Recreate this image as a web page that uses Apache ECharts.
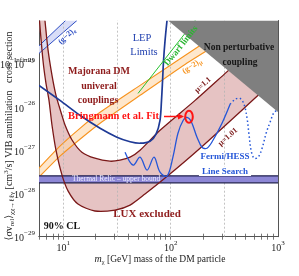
<!DOCTYPE html>
<html><head><meta charset="utf-8">
<script src="https://cdn.jsdelivr.net/npm/echarts@6/dist/echarts.min.js"></script>
<style>html,body{margin:0;padding:0;background:#fff}#c{width:299px;height:276px}</style>
</head><body><div id="c"></div>
<script>
// ---- axis ranges & ticks ----
const xMin = 5.94, xMax = 1000, yMin = 0.998e-29, yMax = 1e-24;
const xGridVals = [10, 31.6, 100, 316];
const yGridVals = [1e-28, 1e-27, 1e-26, 1e-25];
const xTickVals = [6,7,8,9,10,20,30,40,50,60,70,80,90,100,200,300,400,500,600,700,800,900];
const yTickVals = [];
[-29,-28,-27,-26,-25].forEach(e => { for (let k = 1; k <= 9; k++) yTickVals.push(k * Math.pow(10, e)); });

// ---- non perturbative region ----
const npM = [94.6, 1000, 1000];
const npS = [1e-24, 1e-24, 7.6e-27];

// ---- LUX / Majorana band (mu = 1.1 upper edge, mu = 1.01 lower edge) ----
const mu11M = [6.75, 7.2, 7.85, 8.55, 9.52, 10.4, 12.1, 14.9, 19.7, 27.2, 33.7, 41.9, 51.9, 79.6, 169, 332, 450];
const mu11S = [1e-24, 2.14e-25, 5.37e-26, 1.86e-26, 7.53e-27, 3.78e-27, 1.70e-27, 9.0e-28, 6.53e-28, 5.57e-28, 5.88e-28, 6.9e-28, 1.0e-27, 2.89e-27, 1.42e-26, 6.4e-26, 1.26e-25];
const mu101M = [6.0, 6.47, 6.9, 7.36, 7.85, 8.55, 9.73, 11.1, 13.7, 19.7, 30.3, 41.9, 57.7, 88.7, 188, 653, 1000];
const mu101S = [1e-24, 1.19e-25, 3.51e-26, 1.42e-26, 3.78e-27, 1.0e-27, 2.65e-28, 1.13e-28, 5.68e-29, 3.92e-29, 4.13e-29, 5.38e-29, 9.66e-29, 2.26e-28, 1.11e-27, 1.86e-26, 4.9e-26];

// ---- (g-2)_mu band ----
const gmUpM = [5.94, 9.31, 14.3, 22.0, 51.9, 136, 259];
const gmUpS = [3.85e-28, 1.24e-27, 3.21e-27, 7.53e-27, 3.16e-26, 1.55e-25, 4.5e-25];
const gmLoM = [5.94, 9.31, 14.3, 22.0, 51.9, 136, 288];
const gmLoS = [2.38e-28, 7.27e-28, 1.79e-27, 4.2e-27, 1.86e-26, 9.64e-26, 3.1e-25];

// ---- (g-2)_e band ----
const geUpM = [5.94, 10.5];
const geUpS = [2.6e-25, 1e-24];
const geLoM = [5.94, 13.4];
const geLoS = [1.73e-25, 1e-24];

// ---- LEP limits ----
const lepM = [5.94, 9.31, 14.3, 22.0, 31.6, 41.9, 51.9, 64.3, 73.1, 79.6, 82.2, 84.1, 85.9, 88.7, 92.5];
const lepS = [3.16e-26, 1.42e-26, 6.42e-27, 3.21e-27, 2.0e-27, 1.57e-27, 1.45e-27, 1.61e-27, 2.34e-27, 4.92e-27, 1.42e-26, 4.12e-26, 1.19e-25, 3.44e-25, 1e-24];

// ---- Dwarf limits ----
const dwM = [49.7, 169];
const dwS = [2.06e-26, 1e-24];

// ---- Fermi / HESS line search ----
const fermiM = [37.6, 44.7, 51.9, 60.3, 70.0, 79.6, 92.5, 105, 117, 131, 142, 155, 176, 196, 218, 248, 301, 358];
const fermiS = [9.0e-28, 4.51e-28, 6.9e-28, 3.46e-28, 6.9e-28, 3.11e-28, 2.51e-28, 6.9e-28, 2.47e-27, 4.92e-27, 5.77e-27, 4.67e-27, 2.0e-27, 1.17e-27, 1.11e-27, 1.7e-27, 4.2e-27, 1.15e-26];
const hessM = [358, 398, 443, 483, 515, 538, 561, 598, 653, 711, 775, 844, 920, 1000];
const hessS = [1.15e-26, 1.5e-26, 1.58e-26, 1.15e-26, 5.47e-27, 2.22e-27, 1.0e-27, 6.53e-28, 6.9e-28, 1.11e-27, 2.47e-27, 4.43e-27, 7.53e-27, 8.4e-27];

// ---- thermal relic band ----
const relicM = [xMin, xMax];
const relicLo = [1.76e-28, 1.76e-28], relicHi = [2.55e-28, 2.55e-28];

// ---------------------------------------------------------------
const zip = (a, b) => a.map((v, i) => [v, b[i]]);
const SERIF = '"Liberation Serif","DejaVu Serif",serif';
const DARKRED = '#8e1b1b';

function shapeSeries(z, build) {
  return {
    type: 'custom', coordinateSystem: 'cartesian2d', z: z, silent: true, clip: true,
    data: [[10, 1e-27]],
    renderItem: (p, api) => build(api)
  };
}
function pts(api, m, s) { return zip(m, s).map(d => api.coord(d)); }

const series = [];
series.push(shapeSeries(2, api => ({
  type: 'polygon', shape: { points: pts(api, mu11M, mu11S).concat(pts(api, mu101M, mu101S).reverse()), smooth: 0.25 },
  style: { fill: '#e6c3c3' }
})));
series.push(shapeSeries(3, api => ({
  type: 'group', children: [
    { type: 'polygon', shape: { points: pts(api, gmUpM, gmUpS).concat(pts(api, gmLoM, gmLoS).reverse()), smooth: 0.2 },
      style: { fill: 'rgba(253,215,170,0.6)' } },
    { type: 'polyline', shape: { points: pts(api, gmUpM, gmUpS), smooth: 0.2 }, style: { stroke: '#f7931e', lineWidth: 1.1, fill: null } },
    { type: 'polyline', shape: { points: pts(api, gmLoM, gmLoS), smooth: 0.2 }, style: { stroke: '#f7931e', lineWidth: 1.1, fill: null } }
  ]
})));
series.push(shapeSeries(3, api => ({
  type: 'group', children: [
    { type: 'polygon', shape: { points: pts(api, geUpM, geUpS).concat(pts(api, geLoM, geLoS).reverse()) }, style: { fill: '#d9ddf7' } },
    { type: 'polyline', shape: { points: pts(api, geUpM, geUpS) }, style: { stroke: '#2f4fc4', lineWidth: 1, fill: null } },
    { type: 'polyline', shape: { points: pts(api, geLoM, geLoS) }, style: { stroke: '#2f4fc4', lineWidth: 1, fill: null } }
  ]
})));
series.push({
  type: 'line', data: [], z: 4, silent: true,
  markLine: {
    silent: true, symbol: 'none', label: { show: false }, animation: false,
    lineStyle: { type: [2, 2], color: '#b4b4b4', width: 0.8 },
    data: xGridVals.map(v => ({ xAxis: v })).concat(yGridVals.map(v => ({ yAxis: v })))
  }
});
series.push(shapeSeries(5, api => ({
  type: 'group', children: [
    { type: 'polygon', shape: { points: pts(api, relicM, relicHi).concat(pts(api, relicM, relicLo).reverse()) }, style: { fill: '#8d87d6' } },
    { type: 'polyline', shape: { points: pts(api, relicM, relicHi) }, style: { stroke: '#20204e', lineWidth: 1.3, fill: null } },
    { type: 'polyline', shape: { points: pts(api, relicM, relicLo) }, style: { stroke: '#20204e', lineWidth: 1.3, fill: null } }
  ]
})));
series.push(shapeSeries(6, api => ({
  type: 'group', children: [
    { type: 'polyline', shape: { points: pts(api, mu11M, mu11S), smooth: 0.25 }, style: { stroke: '#7a1818', lineWidth: 1.3, fill: null } },
    { type: 'polyline', shape: { points: pts(api, mu101M, mu101S), smooth: 0.25 }, style: { stroke: '#7a1818', lineWidth: 1.3, fill: null } }
  ]
})));
series.push(shapeSeries(6, api => ({
  type: 'polyline', shape: { points: pts(api, lepM, lepS), smooth: 0.3 }, style: { stroke: '#1e3a96', lineWidth: 1.7, fill: null }
})));
series.push({ type: 'line', z: 6, silent: true, data: zip(dwM, dwS), symbol: 'none', lineStyle: { color: '#27c22f', width: 1 } });
series.push(shapeSeries(6, api => ({
  type: 'group', children: [
    { type: 'polyline', shape: { points: pts(api, fermiM, fermiS), smooth: 0.35 }, style: { stroke: '#2456d8', lineWidth: 1.3, fill: null } },
    { type: 'polyline', shape: { points: pts(api, hessM, hessS), smooth: 0.35 }, style: { stroke: '#2456d8', lineWidth: 1.5, lineDash: [1.5, 2.5], fill: null } }
  ]
})));
series.push(shapeSeries(8, api => ({
  type: 'polygon', shape: { points: pts(api, npM, npS) }, style: { fill: '#7f7f7f' }
})));

const richTick = {
  b: { fontSize: 10, fontFamily: SERIF, color: '#222', lineHeight: 14, verticalAlign: 'bottom' },
  e: { fontSize: 7, fontFamily: SERIF, color: '#222', lineHeight: 8, verticalAlign: 'top' }
};
const expFmt = (v, hideTop) => {
  const l = Math.log10(v), e = Math.round(l);
  if (Math.abs(l - e) > 0.01) return '';
  if (hideTop && e >= -24) return '';
  return '{b|10}{e|' + (e < 0 ? '\u2212' + (-e) : e) + '}';
};
const axisLineStyle = { color: '#555', width: 1 };
const tickStyle = { color: '#555', width: 0.8 };

const xAxisBase = { type: 'log', logBase: 10, min: xMin, max: xMax, splitLine: { show: false }, axisLine: { lineStyle: axisLineStyle } };
const yAxisBase = { type: 'log', logBase: 10, min: yMin, max: yMax, splitLine: { show: false }, axisLine: { lineStyle: axisLineStyle } };

const option = {
  animation: false,
  backgroundColor: '#fff',
  grid: { left: 39, right: 21, top: 20.5, bottom: 39.3, containLabel: false, outerBoundsMode: 'none' },
  xAxis: [
    Object.assign({}, xAxisBase, {
      position: 'bottom',
      axisTick: { inside: true, length: 3, customValues: xTickVals, lineStyle: tickStyle },
      axisLabel: { formatter: v => expFmt(v, false), rich: richTick, margin: 3, showMinLabel: true, showMaxLabel: true }
    }),
    Object.assign({}, xAxisBase, {
      position: 'top',
      axisTick: { inside: true, length: 3, customValues: xTickVals, lineStyle: tickStyle },
      axisLabel: { show: false }
    })
  ],
  yAxis: [
    Object.assign({}, yAxisBase, {
      position: 'left',
      axisTick: { inside: true, length: 3, customValues: yTickVals, lineStyle: tickStyle },
      axisLabel: { formatter: v => expFmt(v, true), rich: richTick, margin: 4, showMinLabel: true, showMaxLabel: true }
    }),
    Object.assign({}, yAxisBase, {
      position: 'right',
      axisTick: { inside: true, length: 3, customValues: yTickVals, lineStyle: tickStyle },
      axisLabel: { show: false }
    })
  ],
  series: series,
  graphic: [
    { type: 'text', z: 100, x: 9, y: 136, rotation: Math.PI / 2, style: {
      text: '{n|\u27e8\u03c3v}{s|rel}{n|\u27e9}{s|\u03c7\u03c7\u2192\u2113\u2113\u03b3}{n| [cm}{p|3}{n|/s] VIB annihilation   cross section}',
      font: '10px ' + SERIF, fill: '#222', align: 'center', verticalAlign: 'middle',
      rich: {
        n: { fontSize: 10, fontFamily: SERIF, lineHeight: 13, verticalAlign: 'middle' },
        s: { fontSize: 7, fontFamily: SERIF, verticalAlign: 'bottom', lineHeight: 8 },
        p: { fontSize: 7, fontFamily: SERIF, verticalAlign: 'top', lineHeight: 8 }
      }
    } },
    { type: 'text', z: 100, x: 160, y: 259, style: {
      text: '{i|m}{s|\u03c7}{n| [GeV] mass of the DM particle}',
      font: '9.5px ' + SERIF, fill: '#222', align: 'center', verticalAlign: 'middle',
      rich: {
        i: { fontStyle: 'italic', fontSize: 10, fontFamily: SERIF, lineHeight: 13 },
        n: { fontSize: 9.5, fontFamily: SERIF, lineHeight: 13 },
        s: { fontSize: 6.5, fontFamily: SERIF, verticalAlign: 'bottom', lineHeight: 8 }
      }
    } },
    { type: 'text', z: 100, x: 99, y: 71, style: { text: 'Majorana DM', font: 'bold 10px ' + SERIF, fill: DARKRED, align: 'center', verticalAlign: 'middle' } },
    { type: 'text', z: 100, x: 99, y: 86, style: { text: 'univeral', font: 'bold 10px ' + SERIF, fill: DARKRED, align: 'center', verticalAlign: 'middle' } },
    { type: 'text', z: 100, x: 98, y: 100, style: { text: 'couplings', font: 'bold 10px ' + SERIF, fill: DARKRED, align: 'center', verticalAlign: 'middle' } },
    { type: 'text', z: 100, x: 68, y: 116, style: { text: 'Bringmann et al. Fit', font: 'bold 10.5px ' + SERIF, fill: '#ff1414', align: 'left', verticalAlign: 'middle' } },
    { type: 'line', z: 100, shape: { x1: 164, y1: 116.5, x2: 180, y2: 116.5 }, style: { stroke: '#ff1414', lineWidth: 1.5 } },
    { type: 'polygon', z: 100, shape: { points: [[184, 116.5], [178, 113.5], [178, 119.5]] }, style: { fill: '#ff1414' } },
    { type: 'ellipse', z: 100, shape: { cx: 189, cy: 116.7, rx: 3.8, ry: 6 }, style: { stroke: '#ff1414', lineWidth: 2, fill: null } },
    { type: 'text', z: 100, x: 142, y: 38, style: { text: 'LEP', font: '10.5px ' + SERIF, fill: '#1f3fae', align: 'center', verticalAlign: 'middle' } },
    { type: 'text', z: 100, x: 144, y: 52, style: { text: 'Limits', font: '10.5px ' + SERIF, fill: '#1f3fae', align: 'center', verticalAlign: 'middle' } },
    { type: 'text', z: 100, x: 239, y: 48, style: { text: 'Non perturbative', font: 'bold 9.5px ' + SERIF, fill: '#151515', align: 'center', verticalAlign: 'middle' } },
    { type: 'text', z: 100, x: 240, y: 63, style: { text: 'coupling', font: 'bold 9.5px ' + SERIF, fill: '#151515', align: 'center', verticalAlign: 'middle' } },
    { type: 'text', z: 100, x: 181, y: 46, rotation: 0.90, style: { text: 'Dwarf limits', font: 'bold 9px ' + SERIF, fill: '#27b52f', align: 'center', verticalAlign: 'middle' } },
    { type: 'text', z: 100, x: 192, y: 66, rotation: 0.59, style: { text: '{n|(g\u22122)}{s|\u03bc}', font: 'bold 8px ' + SERIF, fill: '#f7931e', align: 'center', verticalAlign: 'middle',
      rich: { n: { fontSize: 8, fontWeight: 'bold', fontFamily: SERIF, lineHeight: 11 }, s: { fontSize: 6, fontWeight: 'bold', fontFamily: SERIF, verticalAlign: 'bottom', lineHeight: 7 } } } },
    { type: 'text', z: 100, x: 67, y: 36, rotation: 0.75, style: { text: '{n|(g\u22122)}{s|e}', font: 'bold 8px ' + SERIF, fill: '#2f4fc4', align: 'center', verticalAlign: 'middle',
      rich: { n: { fontSize: 8, fontWeight: 'bold', fontFamily: SERIF, lineHeight: 11 }, s: { fontSize: 6, fontWeight: 'bold', fontFamily: SERIF, verticalAlign: 'bottom', lineHeight: 7 } } } },
    { type: 'text', z: 100, x: 203, y: 85, rotation: 0.73, style: { text: '\u03bc=1.1', font: 'bold 8px ' + SERIF, fill: '#7a1818', align: 'center', verticalAlign: 'middle' } },
    { type: 'text', z: 100, x: 228, y: 137, rotation: 0.73, style: { text: '\u03bc=1.01', font: 'bold 8px ' + SERIF, fill: '#7a1818', align: 'center', verticalAlign: 'middle' } },
    { type: 'text', z: 100, x: 72, y: 179.2, style: { text: 'Thermal Relic \u2013 upper bound', font: '7.5px ' + SERIF, fill: '#eeeeff', align: 'left', verticalAlign: 'middle' } },
    { type: 'text', z: 100, x: 225, y: 157, style: { text: 'Fermi/HESS', font: 'bold 9px ' + SERIF, fill: '#2456d8', align: 'center', verticalAlign: 'middle' } },
    { type: 'text', z: 100, x: 225, y: 171.5, style: { text: 'Line Search', font: 'bold 9px ' + SERIF, fill: '#2456d8', align: 'center', verticalAlign: 'middle', backgroundColor: '#fff', padding: [0, 3] } },
    { type: 'text', z: 100, x: 147, y: 214, style: { text: 'LUX excluded', font: 'bold 11px ' + SERIF, fill: DARKRED, align: 'center', verticalAlign: 'middle' } },
    { type: 'text', z: 100, x: 62, y: 226, style: { text: '90% CL', font: 'bold 10px ' + SERIF, fill: '#111', align: 'center', verticalAlign: 'middle' } }
  ]
};
const chart = echarts.init(document.getElementById('c'), null, { renderer: 'canvas' });
chart.setOption(option);
</script>
</body></html>
